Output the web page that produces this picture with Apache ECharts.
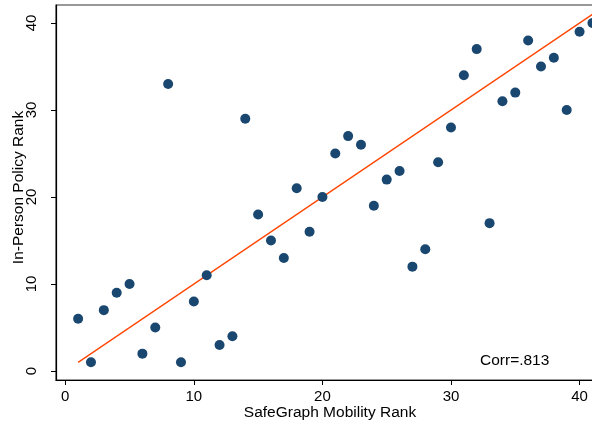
<!DOCTYPE html>
<html>
<head>
<meta charset="utf-8">
<script src="https://cdn.jsdelivr.net/npm/echarts@6/dist/echarts.min.js"></script>
<style>html,body{margin:0;padding:0;background:#fff;}#c{width:592px;height:425px;}</style>
</head>
<body>
<div id="c"></div>
<script>
const mobilityRank = [1,2,3,4,5,6,7,8,9,10,11,12,13,14,15,16,17,18,19,20,21,22,23,24,25,26,27,28,29,30,31,32,33,34,35,36,37,38,39,40,41];
const policyRank   = [6,1,7,9,10,2,5,33,1,8,11,3,4,29,18,15,13,21,16,20,25,27,26,19,22,23,12,14,24,28,34,37,17,31,32,38,35,36,30,39,40];
const refLineX = [1, 41];
const refLineY = [1, 41];
const tickValues = [0, 10, 20, 30, 40];
const corrLabel = 'Corr=.813';

const points = mobilityRank.map((x, i) => [x, policyRank[i]]);
const linePts = refLineX.map((x, i) => [x, refLineY[i]]);

const chart = echarts.init(document.getElementById('c'), null, {renderer: 'canvas'});
const font = 'Liberation Sans, Arial, sans-serif';
chart.setOption({
  animation: false,
  backgroundColor: '#fff',
  grid: {left: 56, top: 5, right: -3, bottom: 45, outerBoundsMode: 'none', containLabel: false,
         show: true, borderColor: '#333', borderWidth: 1.2, backgroundColor: 'transparent'},
  xAxis: {
    type: 'value', min: -0.72, max: 41.2,
    name: 'SafeGraph Mobility Rank', nameLocation: 'middle', nameGap: 25, nameMoveOverlap: false,
    nameTextStyle: {fontFamily: font, fontSize: 15.5, color: '#000', padding: [0, 0, 0, 9]},
    axisLine: {show: true, onZero: false, lineStyle: {color: '#000', width: 1.2}},
    axisTick: {show: true, length: 5, customValues: tickValues, lineStyle: {color: '#000'}},
    axisLabel: {customValues: tickValues, fontFamily: font, fontSize: 15, color: '#000', margin: 9},
    splitLine: {show: false}
  },
  yAxis: {
    type: 'value', min: -1.03, max: 42.07,
    name: 'In-Person Policy Rank', nameLocation: 'middle', nameGap: 29, nameRotate: 90, nameMoveOverlap: false,
    nameTextStyle: {fontFamily: font, fontSize: 15.5, color: '#000', padding: [0, 0, 0, 10]},
    axisLine: {show: true, onZero: false, lineStyle: {color: '#000', width: 1.2}},
    axisTick: {show: true, length: 5, customValues: tickValues, lineStyle: {color: '#000'}},
    axisLabel: {customValues: tickValues, rotate: 90, fontFamily: font, fontSize: 15, color: '#000', margin: 17},
    splitLine: {show: false}
  },
  series: [
    {
      type: 'line', data: linePts, symbol: 'none', silent: true,
      lineStyle: {color: '#ff4500', width: 1.3}, z: 2
    },
    {
      type: 'scatter', data: points, symbol: 'circle', symbolSize: 10,
      itemStyle: {color: '#1a476f', opacity: 1}, z: 3
    }
  ],
  graphic: [{
    type: 'text', left: 480, top: 353,
    style: {text: corrLabel, font: '15.5px ' + font, fill: '#000'}
  }]
});
</script>
</body>
</html>
